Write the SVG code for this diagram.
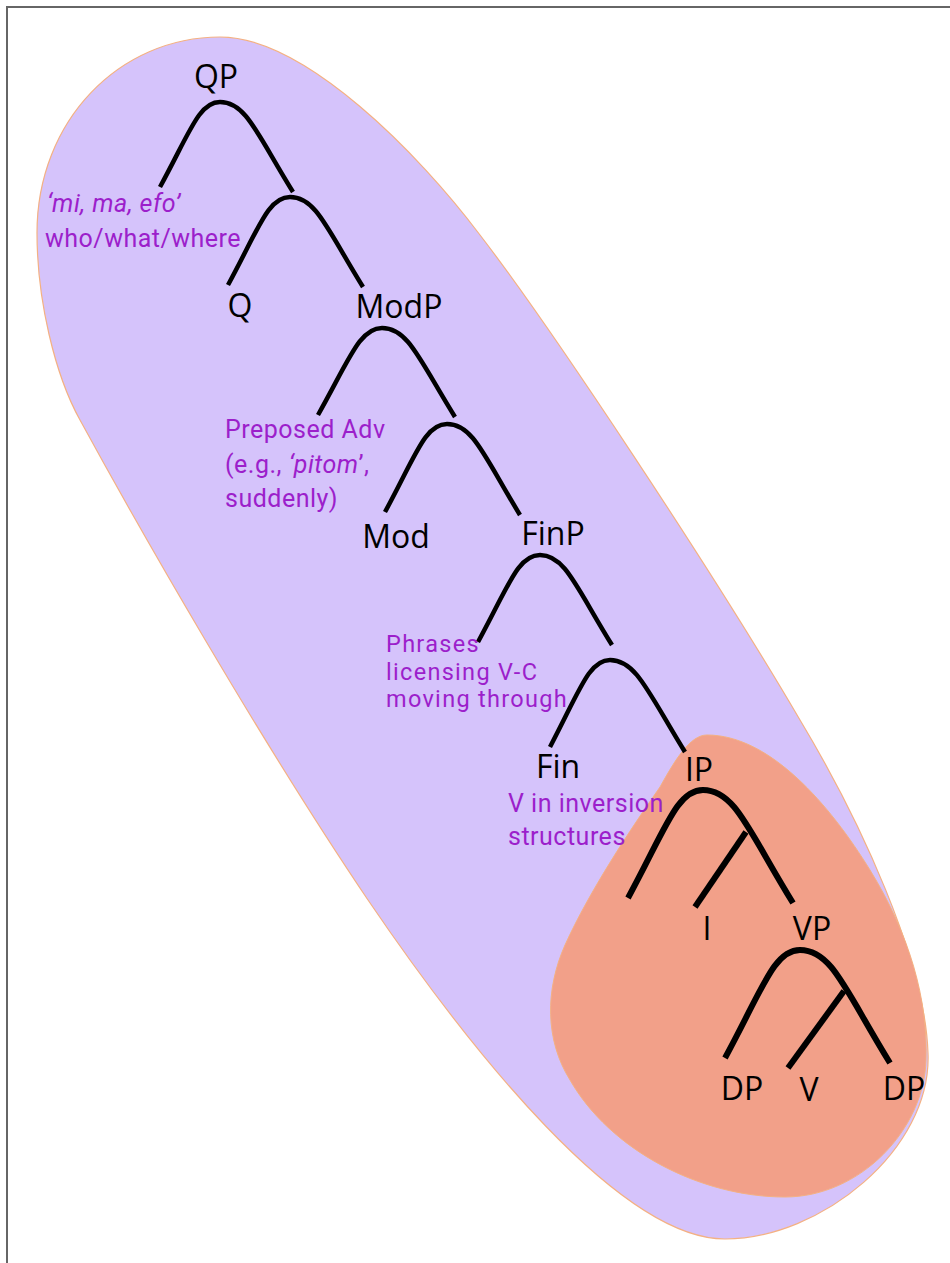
<svg xmlns="http://www.w3.org/2000/svg" width="950" height="1263" viewBox="0 0 950 1263">
<style>
.lbl{font-family:"Open Sans","Liberation Sans",sans-serif;font-size:32px;fill:#000;text-anchor:middle}
.note{font-family:Roboto,"Liberation Sans",sans-serif;font-size:25px;letter-spacing:0.5px;fill:#9C1FCB}
.tight{font-size:23.5px;letter-spacing:1.3px}
.br{fill:none;stroke:#000;stroke-width:4.5;stroke-linecap:butt}
.brk{fill:none;stroke:#000;stroke-width:6;stroke-linecap:butt}
</style>
<rect x="0" y="0" width="950" height="1263" fill="#fff"/>
<rect x="7" y="7" width="1000" height="1300" fill="none" stroke="#666" stroke-width="2"/>
<g id="region-cp">
<path d="M220,37 C305,37 420,155 480,235 C550,326 712,570 800,720 C860,820 925,960 928,1053 C932,1150 820,1239 725,1239 C620,1239 470,1050 368,900 C260,740 140,530 80,420 C55,375 37,300 37,233 C37,120 120,37 220,37 Z" fill="#D5C3FB" stroke="#F4B183" stroke-width="1.2"/>
</g>
<g id="region-ip">
<path d="M707,735 C770,735 830,805 870,870 C910,935 928,1000 926,1060 C924,1130 860,1197 785,1197 C700,1197 610,1150 570,1080 C545,1040 545,990 565,945 C590,890 630,830 660,787 C675,760 690,735 707,735 Z" fill="#F2A089" stroke="#F4B183" stroke-width="1"/>
</g>
<g id="connectors">
<path class="br" d="M160,187 C190,132 199,102 220,102 C246,102 257,134 293,192"/>
<path class="br" d="M228,285 C259,228 268,197 290,197 C316,197 327,229 363,287"/>
<path class="br" d="M318,415 C350,358 360,328 382,328 C408,328 419,359 455,417"/>
<path class="br" d="M385,512 C416,455 425,424 447,424 C473,424 484,456 520,515"/>
<path class="br" d="M478,642 C509,585 518,555 540,555 C565,555 576,587 612,645"/>
<path class="br" d="M550,747 C580,690 589,660 610,660 C636,660 648,692 685,752"/>
<path class="brk" d="M628,898 C666,828 677,790 703,790 C735,790 748,830 793,903"/>
<path class="brk" d="M746,832 L695,907"/>
<path class="brk" d="M725,1058 C763,988 774,950 800,950 C832,950 845,990 890,1063"/>
<path class="brk" d="M844,991 L788,1068"/>
</g>
<g id="node-QP"><text class="lbl" x="216" y="88">QP</text></g>
<g id="node-Q"><text class="lbl" x="240" y="317">Q</text></g>
<g id="node-ModP"><text class="lbl" x="399" y="318">ModP</text></g>
<g id="node-Mod"><text class="lbl" x="396" y="548">Mod</text></g>
<g id="node-FinP"><text class="lbl" x="553" y="545">FinP</text></g>
<g id="node-Fin"><text class="lbl" x="558" y="778">Fin</text></g>
<g id="node-IP"><text class="lbl" x="699" y="781">IP</text></g>
<g id="node-I"><text class="lbl" x="707" y="940">I</text></g>
<g id="node-VP"><text class="lbl" x="812" y="940">VP</text></g>
<g id="node-DP1"><text class="lbl" x="742" y="1100">DP</text></g>
<g id="node-V"><text class="lbl" x="809" y="1101">V</text></g>
<g id="node-DP2"><text class="lbl" x="904" y="1100">DP</text></g>
<g id="note-q">
<text class="note" x="47" y="212" font-style="italic">‘mi, ma, efo’</text>
<text class="note" x="45" y="247">who/what/where</text>
</g>
<g id="note-mod">
<text class="note" x="225" y="438">Preposed Adv</text>
<text class="note" x="225" y="473">(e.g., <tspan font-style="italic">‘pitom</tspan>’,</text>
<text class="note" x="225" y="507">suddenly)</text>
</g>
<g id="note-finp">
<text class="note tight" x="386" y="652">Phrases</text>
<text class="note tight" x="386" y="680">licensing V-C</text>
<text class="note tight" x="386" y="707">moving through</text>
</g>
<g id="note-fin">
<text class="note" x="508" y="812">V in inversion</text>
<text class="note" x="508" y="845">structures</text>
</g>
</svg>
